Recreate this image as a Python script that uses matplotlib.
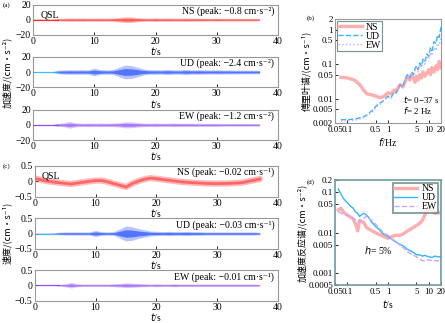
import numpy as np
import matplotlib
matplotlib.use("Agg")
import matplotlib.pyplot as plt

plt.rcParams['font.family'] = ['Liberation Serif', 'DejaVu Serif', 'Noto Sans CJK SC']
plt.rcParams['font.size'] = 7
plt.rcParams['axes.unicode_minus'] = True

# --- data ---
t_sec = np.arange(0, 38)  # 0..37 s

acc_ns_env = [0.8, 0.8, 0.8, 0.8, 1.5, 2.0, 2.2, 2.0, 2.2, 2.0, 2.0, 2.2, 2.0, 2.2,
              3.0, 3.8, 3.8, 2.8, 2.2, 2.0, 2.4, 2.0, 2.2, 2.0, 2.0, 2.2, 2.0, 2.0,
              2.0, 1.8, 2.0, 1.8, 1.8, 1.8, 1.8, 1.8, 1.8, 1.5]
acc_ud_env = [0.2, 0.2, 0.2, 0.2, 2.2, 2.8, 3.0, 2.8, 3.0, 2.8, 5.0, 3.2, 2.8, 3.0,
              6.0, 9.0, 8.5, 6.5, 4.0, 3.0, 3.0, 2.8, 3.4, 2.8, 2.8, 3.4, 2.8, 3.0,
              2.8, 2.6, 2.8, 2.6, 2.6, 2.4, 2.4, 2.4, 2.4, 2.2]
acc_ew_env = [0.5, 0.5, 0.5, 0.5, 2.0, 2.6, 4.4, 2.6, 2.2, 2.4, 2.2, 2.4, 2.2, 2.4,
              2.8, 4.0, 3.8, 3.0, 2.4, 2.2, 2.4, 2.2, 2.2, 2.4, 2.2, 2.2, 2.2, 2.0,
              2.0, 2.0, 2.0, 1.8, 1.8, 1.8, 1.8, 1.8, 1.8, 1.6]

vel_ns_t = [0, 2, 4, 6, 7, 8, 10, 11, 12, 13, 14, 15, 16, 17, 18, 19, 20, 22, 24,
            26, 28, 30, 32, 34, 36, 37]
vel_ns = [0.09, 0.0, -0.05, -0.09, -0.06, -0.03, 0.02, 0.02, -0.02, -0.08, -0.13,
          -0.19, -0.08, 0.0, 0.06, 0.10, 0.08, 0.03, -0.02, -0.05, -0.07, -0.08,
          -0.07, -0.05, 0.03, 0.07]
vel_ud_env = [0.01, 0.01, 0.01, 0.01, 0.04, 0.05, 0.05, 0.05, 0.05, 0.05, 0.10, 0.06,
              0.05, 0.06, 0.15, 0.24, 0.22, 0.16, 0.12, 0.08, 0.07, 0.06, 0.07, 0.06,
              0.06, 0.07, 0.06, 0.06, 0.05, 0.05, 0.05, 0.05, 0.05, 0.05, 0.05, 0.05,
              0.05, 0.04]
vel_ew_env = [0.01, 0.01, 0.01, 0.01, 0.03, 0.05, 0.09, 0.05, 0.04, 0.04, 0.04, 0.04,
              0.04, 0.05, 0.06, 0.08, 0.07, 0.06, 0.05, 0.04, 0.05, 0.04, 0.04, 0.05,
              0.04, 0.04, 0.04, 0.04, 0.04, 0.04, 0.04, 0.04, 0.04, 0.04, 0.04, 0.04,
              0.04, 0.03]

fs_f = [0.07, 0.1, 0.15, 0.2, 0.25, 0.3, 0.4, 0.5, 0.6, 0.7, 0.8, 1.0, 1.2, 1.4, 1.6,
        1.8, 2.0, 2.3, 2.6, 3.0, 3.4, 3.8, 4.2, 4.6, 5.0, 5.5, 6.0, 6.6, 7.2, 8.0,
        9.0, 10, 11, 12, 13.5, 15, 16.5, 18, 20]
fs_ns = [0.042, 0.040, 0.035, 0.026, 0.018, 0.014, 0.013, 0.012, 0.011, 0.011, 0.012,
         0.015, 0.014, 0.018, 0.017, 0.022, 0.026, 0.022, 0.030, 0.045, 0.035, 0.050,
         0.040, 0.030, 0.045, 0.035, 0.050, 0.040, 0.060, 0.045, 0.055, 0.070, 0.050,
         0.080, 0.060, 0.090, 0.070, 0.120, 0.080]
fs_ud = [0.0025, 0.0025, 0.0026, 0.0028, 0.003, 0.0034, 0.0045, 0.006, 0.0075, 0.008,
         0.0095, 0.012, 0.011, 0.016, 0.015, 0.02, 0.025, 0.022, 0.035, 0.05, 0.04,
         0.06, 0.05, 0.075, 0.09, 0.07, 0.11, 0.09, 0.14, 0.12, 0.2, 0.17, 0.3, 0.25,
         0.45, 0.4, 0.7, 0.6, 1.2]
fs_ew = [0.0023, 0.0023, 0.0024, 0.0026, 0.0028, 0.0032, 0.004, 0.0055, 0.0068, 0.0075,
         0.009, 0.011, 0.01, 0.015, 0.014, 0.019, 0.024, 0.021, 0.033, 0.045, 0.038,
         0.055, 0.045, 0.065, 0.08, 0.06, 0.1, 0.08, 0.12, 0.1, 0.16, 0.14, 0.22, 0.18,
         0.3, 0.25, 0.4, 0.35, 0.6]

rs_t = [0.06, 0.07, 0.08, 0.1, 0.12, 0.14, 0.16, 0.18, 0.2, 0.25, 0.3, 0.35, 0.4, 0.5,
        0.6, 0.7, 0.8, 1.0, 1.2, 1.5, 2.0, 2.5, 3.0, 4.0, 5.0, 6.0, 7.0, 8.0, 10, 12,
        14, 17, 20]
rs_ns = [0.036, 0.04, 0.032, 0.027, 0.024, 0.022, 0.016, 0.011, 0.02, 0.018, 0.013,
         0.012, 0.011, 0.0098, 0.009, 0.0085, 0.0078, 0.0072, 0.0078, 0.0085, 0.0085,
         0.0095, 0.011, 0.013, 0.015, 0.017, 0.02, 0.027, 0.04, 0.035, 0.03, 0.031, 0.03]
rs_ud = [0.12, 0.09, 0.07, 0.055, 0.045, 0.04, 0.032, 0.03, 0.025, 0.03, 0.027, 0.022,
         0.018, 0.014, 0.012, 0.01, 0.009, 0.008, 0.007, 0.006, 0.005, 0.0045, 0.0038,
         0.0033, 0.0028, 0.0028, 0.0026, 0.0027, 0.0025, 0.0024, 0.0026, 0.0025, 0.0025]
rs_ew = [0.033, 0.03, 0.028, 0.027, 0.025, 0.022, 0.02, 0.019, 0.018, 0.022, 0.026,
         0.022, 0.02, 0.016, 0.013, 0.011, 0.0095, 0.0085, 0.007, 0.006, 0.0048, 0.004,
         0.0033, 0.0028, 0.0025, 0.0022, 0.002, 0.002, 0.0021, 0.002, 0.002, 0.002, 0.002]

acc_titles = ['NS (peak: −0.8 cm·s⁻²)', 'UD (peak: −2.4 cm·s⁻²)', 'EW (peak: −1.2 cm·s⁻²)']
vel_titles = ['NS (peak: −0.02 cm·s⁻¹)', 'UD (peak: −0.03 cm·s⁻¹)', 'EW (peak: −0.01 cm·s⁻¹)']

RED, BLUE, PURPLE = '#ff2020', '#1040ff', '#8844ee'
CYAN, LAV, PINK = '#33b5ff', '#c9a6ff', '#ff9a9a'
SPINE = '#999999'
CJK = ['Noto Sans CJK SC', 'DejaVu Sans']

W, H = 445, 323
fig = plt.figure(figsize=(W / 100, H / 100), dpi=100)


def ax_px(l, t, r, b):
    return fig.add_axes([l / W, 1 - b / H, (r - l) / W, (b - t) / H])


def style(ax, size=7):
    for s in ax.spines.values():
        s.set_color(SPINE)
        s.set_linewidth(0.8)
    ax.tick_params(direction='in', length=2, width=0.6, pad=1.5, colors='black',
                   labelsize=size)
    ax.tick_params(which='minor', length=0)


def trace_panel(ax, env, color, ylim, yticks, label):
    env = np.array(env)
    ax.fill_between(t_sec, -env, env, color=color, alpha=0.3, lw=0)
    ax.fill_between(t_sec, -0.5 * env, 0.5 * env, color=color, alpha=0.6, lw=0)
    ax.plot(t_sec[:5], np.zeros(5), color=CYAN if color == BLUE else color,
            lw=0.9, alpha=0.9)
    ax.set_xlim(0, 40)
    ax.set_ylim(*ylim)
    ax.set_yticks(yticks)
    ax.set_xticks([0, 10, 20, 30, 40])
    ax.set_xlabel('$t$/s', labelpad=-0.5)
    ax.text(0.985, 0.93, label, transform=ax.transAxes, ha='right', va='top')
    style(ax)


# (a) acceleration
acc_rows = [(4.7, 34.7), (56.7, 87.3), (109.7, 140)]
for (top, bot), env, col, lab in zip(acc_rows, [acc_ns_env, acc_ud_env, acc_ew_env],
                                    [RED, BLUE, PURPLE], acc_titles):
    ax = ax_px(33, top, 278, bot)
    trace_panel(ax, env, col, (-20, 20), [-20, 0, 20], lab)
    if col == RED:
        ax.text(0.03, 0.8, 'QSL', transform=ax.transAxes, ha='left', va='top')

# (c) velocity
vel_rows = [(165.7, 196.7), (218, 249), (270, 300.5)]
for i, ((top, bot), col, lab) in enumerate(zip(vel_rows, [RED, BLUE, PURPLE], vel_titles)):
    ax = ax_px(34.7, top, 278, bot)
    if i == 0:
        ax.plot(vel_ns_t, vel_ns, color=RED, lw=4.5, alpha=0.3, solid_capstyle='round')
        ax.plot(vel_ns_t, vel_ns, color=RED, lw=2.0, alpha=0.55)
        ax.set_xlim(0, 40)
        ax.set_ylim(-0.5, 0.5)
        ax.set_yticks([-0.5, 0, 0.5])
        ax.set_xticks([0, 10, 20, 30, 40])
        ax.set_xlabel('$t$/s', labelpad=-0.5)
        ax.text(0.985, 0.93, lab, transform=ax.transAxes, ha='right', va='top')
        ax.text(0.03, 0.8, 'QSL', transform=ax.transAxes, ha='left', va='top')
        style(ax)
    else:
        env = vel_ud_env if i == 1 else vel_ew_env
        trace_panel(ax, env, col, (-0.5, 0.5), [-0.5, 0, 0.5], lab)
    ax.yaxis.set_major_formatter(matplotlib.ticker.FuncFormatter(
        lambda v, p: '0' if v == 0 else ('%g' % v).replace('-', '−')))

fig.text(7 / W, 1 - 72 / H, '加速度/(cm·s⁻²)', rotation=90, ha='center', va='center',
         family=CJK, fontsize=6.5)
fig.text(7 / W, 1 - 233 / H, '速度/(cm·s⁻¹)', rotation=90, ha='center', va='center',
         family=CJK, fontsize=6.5)
fig.text(3 / W, 1 - 5 / H, '(a)', fontsize=5, va='center')
fig.text(3 / W, 1 - 166 / H, '(c)', fontsize=5, va='center')
fig.text(307 / W, 1 - 18 / H, '(b)', fontsize=5, va='center')
fig.text(307 / W, 1 - 182 / H, '(d)', fontsize=5, va='center')

xt = [0.05, 0.1, 0.5, 1, 5, 10, 20]
xtl = ['0.05', '0.1', '0.5', '1', '5', '10', '20']

# (b) Fourier spectrum
axb = ax_px(335, 19.3, 441, 123)
axb.loglog(fs_f, fs_ns, color=PINK, lw=2.4, alpha=0.8, label='NS')
axb.loglog(fs_f, fs_ud, color=CYAN, lw=1.0, ls='--', label='UD')
axb.loglog(fs_f, fs_ew, color=LAV, lw=1.0, ls=':', label='EW')
axb.set_xlim(0.05, 20)
axb.set_ylim(0.002, 2)
axb.set_xticks(xt, xtl)
yt = [0.002, 0.005, 0.01, 0.05, 0.1, 0.5, 1, 2]
axb.set_yticks(yt, ['0.002', '0.005', '0.01', '0.05', '0.1', '0.5', '1', '2'])
axb.set_xlabel('$f$/Hz', labelpad=1)
axb.set_ylabel('傅里叶谱/(cm·s⁻¹)', family=CJK, fontsize=6.5, labelpad=1)
axb.text(0.64, 0.23, '$t$= 0−37 s', transform=axb.transAxes, ha='left', va='center',
         fontsize=6.5)
axb.text(0.64, 0.12, '$f$= 2 Hz', transform=axb.transAxes, ha='left', va='center',
         fontsize=6.5)
style(axb, 6.5)
axb.tick_params(axis='x', pad=2.5)
lg = axb.legend(loc='upper left', frameon=True, fancybox=False, fontsize=7,
                handlelength=2.4, borderpad=0.15, labelspacing=0.0, handletextpad=0.4,
                borderaxespad=0.2)
lg.get_frame().set_edgecolor('#557777')
lg.get_frame().set_linewidth(0.8)

# (d) acceleration response spectrum
axd = ax_px(335, 180, 441, 285)
axd.loglog(rs_t, rs_ns, color=PINK, lw=2.4, alpha=0.8, label='NS')
axd.loglog(rs_t, rs_ud, color=CYAN, lw=1.0, ls='-', label='UD')
axd.loglog(rs_t, rs_ew, color=LAV, lw=1.0, ls='--', label='EW')
axd.set_xlim(0.05, 20)
axd.set_ylim(0.0005, 0.2)
axd.set_xticks(xt, xtl)
axd.set_yticks([0.0005, 0.001, 0.005, 0.01, 0.05, 0.1, 0.2],
               ['0.0005', '0.001', '0.005', '0.01', '0.05', '0.1', '0.2'])
axd.set_xlabel('$t$/s', labelpad=1)
axd.set_ylabel('加速度反应谱/(cm·s⁻²)', family=CJK, fontsize=6.5, labelpad=1)
axd.text(0.27, 0.33, '$h$= 5%', transform=axd.transAxes, ha='left', va='center')
style(axd, 6.5)
axd.tick_params(axis='x', pad=2.5)
for s in axd.spines.values():
    s.set_color('#6f9a9a')
    s.set_linewidth(1.2)
lg = axd.legend(loc='upper right', frameon=True, fancybox=False, fontsize=7,
                handlelength=2.4, borderpad=0.15, labelspacing=0.0, handletextpad=0.4,
                borderaxespad=0.3)
lg.get_frame().set_edgecolor('#557777')
lg.get_frame().set_linewidth(1.2)

fig.savefig('out.png', dpi=100)
